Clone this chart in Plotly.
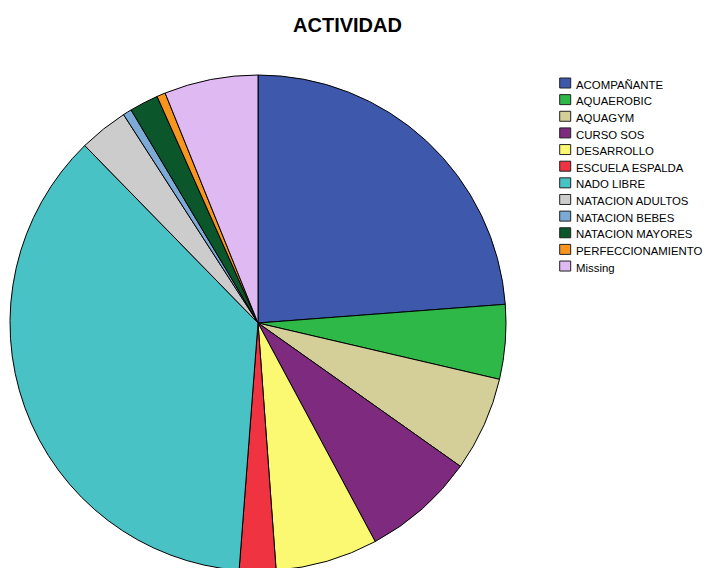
import plotly.graph_objects as go

labels = ["ACOMPAÑANTE", "AQUAEROBIC", "AQUAGYM", "CURSO SOS", "DESARROLLO",
          "ESCUELA ESPALDA", "NADO LIBRE", "NATACION ADULTOS", "NATACION BEBES",
          "NATACION MAYORES", "PERFECCIONAMIENTO", "Missing"]
values = [23.80, 4.85, 6.16, 7.36, 6.67, 2.38, 36.48, 3.19, 0.57, 1.88, 0.56, 6.11]
colors = ["#3E58AC", "#2EB848", "#D4CF99", "#7E2A7E", "#FBF872", "#EF3340",
          "#48C2C5", "#CCCCCC", "#7BAAD6", "#0B572B", "#F7951E", "#DFB9F1"]

W, H = 712, 568
MT, MB = 67, 5
PH = H - MT - MB          # plot-area height in px (pie diameter)

fig = go.Figure(go.Pie(
    labels=labels, values=values, sort=False, direction="clockwise", rotation=0,
    marker=dict(colors=colors, line=dict(color="#000000", width=1)),
    textinfo="none", hoverinfo="label+percent", showlegend=False,
    domain=dict(x=[2 / W, (2 + PH) / W], y=[0, 1]),
))

# custom legend (compact SPSS-style rows)
def py(yfig):
    return 1 - (yfig - MT) / PH

shapes, annots = [], []
row0, step = 75.0, 16.64
for i, (lab, col) in enumerate(zip(labels, colors)):
    yc = row0 + step * i
    shapes.append(dict(type="rect", xref="paper", yref="paper",
                       x0=551.7 / W, x1=562.7 / W, y0=py(yc + 5), y1=py(yc - 5),
                       fillcolor=col, line=dict(color="#222222", width=1)))
    annots.append(dict(text=lab, xref="paper", yref="paper",
                       x=565.5 / W, y=py(yc + 1.6), xanchor="left", yanchor="middle",
                       showarrow=False,
                       font=dict(size=11.4, color="#000000",
                                 family="Liberation Sans, Arial, sans-serif")))

fig.update_layout(
    width=W, height=H,
    margin=dict(l=0, r=0, t=MT, b=MB),
    paper_bgcolor="white", plot_bgcolor="white",
    font=dict(family="Liberation Sans, Arial, sans-serif", color="#000000"),
    title=dict(text="<b>ACTIVIDAD</b>", x=339.5 / W, xanchor="center",
               y=1 - 17 / H, yanchor="middle", yref="container",
               font=dict(size=20, color="#000000")),
    shapes=shapes, annotations=annots,
)

fig.write_html("out.html")
